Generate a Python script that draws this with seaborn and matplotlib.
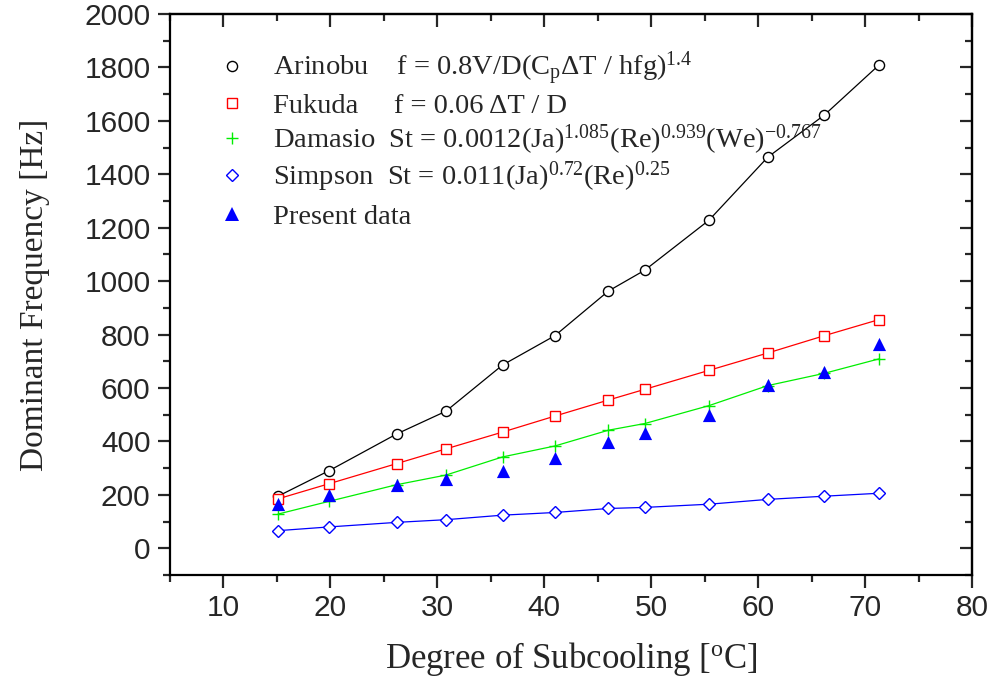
import matplotlib
matplotlib.use("Agg")
import matplotlib.pyplot as plt
import seaborn as sns
import numpy as np
import pandas as pd
from matplotlib.lines import Line2D
from matplotlib.ticker import MultipleLocator

# ---- data ----
subcooling = [15.1, 19.9, 26.2, 30.8, 36.1, 41.0, 46.0, 49.4, 55.4, 60.9, 66.2, 71.3]
arinobu = [195, 291, 428, 513, 686, 796, 963, 1041, 1228, 1464, 1622, 1809]
fukuda = [185, 242, 317, 372, 435, 495, 555, 595, 666, 731, 796, 856]
damasio = [128, 176, 238, 274, 342, 383, 442, 467, 534, 609, 655, 709]
simpson = [66, 80, 97, 107, 124, 134, 149, 153, 165, 183, 195, 206]
present = [166, 200, 237, 258, 289, 337, 396, 430, 498, 610, 661, 766]

labels = [
    "Arinobu    f = 0.8V/D(C$_\\mathregular{p}$\u0394T / hfg)$^\\mathregular{1.4}$",
    "Fukuda     f = 0.06 \u0394T / D",
    "Damasio  St = 0.0012(Ja)$^\\mathregular{1.085}$(Re)$^\\mathregular{0.939}$(We)$^\\mathregular{-0.767}$",
    "Simpson  St = 0.011(Ja)$^\\mathregular{0.72}$(Re)$^\\mathregular{0.25}$",
    "Present data",
]
xlabel = "Degree of Subcooling [$^\\mathregular{o}$C]"
ylabel = "Dominant Frequency [Hz]"
x_ticks = [10, 20, 30, 40, 50, 60, 70, 80]
y_ticks = [0, 200, 400, 600, 800, 1000, 1200, 1400, 1600, 1800, 2000]

sns.set_style("ticks")
plt.rcParams["font.family"] = ["Liberation Serif", "DejaVu Serif"]
plt.rcParams["mathtext.fontset"] = "custom"
plt.rcParams["mathtext.rm"] = "Liberation Serif"
plt.rcParams["mathtext.it"] = "Liberation Serif:italic"

fig = plt.figure(figsize=(9.94, 6.81), dpi=100)
ax = fig.add_axes([170/994, 1-575/681, (972-170)/994, (575-14)/681])

series = [
    (arinobu, "o", "#000000", 7.3),
    (fukuda, "s", "#ff0000", 6.6),
    (damasio, "+", "#00ee00", 8.8),
    (simpson, "D", "#0000ff", 6.6),
]
for vals, mk, col, ms in series:
    sns.lineplot(x=subcooling, y=vals, ax=ax, color=col, linewidth=0.9,
                 marker=mk, markersize=ms, markerfacecolor="white",
                 markeredgecolor=col, markeredgewidth=1.0)

sns.scatterplot(x=subcooling, y=present, ax=ax, marker="^", s=90,
                color="#0000ff", edgecolor="#0000ff", linewidth=0, zorder=5)

ax.set_xlim(5, 80)
ax.set_ylim(-100, 2000)
ax.set_xticks(x_ticks)
ax.set_yticks(y_ticks)
ax.xaxis.set_minor_locator(MultipleLocator(5))
ax.yaxis.set_minor_locator(MultipleLocator(100))
for s in ax.spines.values():
    s.set_linewidth(1.6)
    s.set_color("black")
    s.set_visible(True)
ax.tick_params(axis="both", which="major", direction="out", length=9, width=1.6, pad=5)
ax.tick_params(axis="both", which="minor", direction="out", length=5, width=1.6)
ax.tick_params(top=False, right=False, which="both")

for t in ax.get_yticklabels():
    t.set_fontfamily(["Liberation Sans", "DejaVu Sans"])
    t.set_fontsize(21.5)
for t in ax.get_xticklabels():
    t.set_fontfamily(["Liberation Sans", "DejaVu Sans"])
    t.set_fontsize(21.5)

secx = ax.secondary_xaxis("top")
secx.set_xticks(x_ticks)
secx.xaxis.set_minor_locator(MultipleLocator(5))
secx.tick_params(axis="x", which="major", direction="in", length=9, width=1.6, labeltop=False)
secx.tick_params(axis="x", which="minor", direction="in", length=5, width=1.6)
secx.spines["top"].set_linewidth(1.6)

secy = ax.secondary_yaxis("right")
secy.set_yticks(y_ticks)
secy.yaxis.set_minor_locator(MultipleLocator(100))
secy.tick_params(axis="y", which="major", direction="in", length=9, width=1.6, labelright=False)
secy.tick_params(axis="y", which="minor", direction="in", length=5, width=1.6)
secy.spines["right"].set_linewidth(1.6)

ax.set_xlabel(xlabel, fontsize=25, family="Liberation Serif")
ax.set_ylabel(ylabel, fontsize=24, family="Liberation Serif")
ax.xaxis.set_label_coords(0.5, -0.115)
ax.yaxis.set_label_coords(-0.15, 0.5)

handles = [
    Line2D([], [], linestyle="none", marker="o", markersize=7.3, markerfacecolor="white",
           markeredgecolor="#000000", markeredgewidth=1.0),
    Line2D([], [], linestyle="none", marker="s", markersize=6.6, markerfacecolor="white",
           markeredgecolor="#ff0000", markeredgewidth=1.0),
    Line2D([], [], linestyle="none", marker="+", markersize=8.8,
           markeredgecolor="#00ee00", markeredgewidth=1.0),
    Line2D([], [], linestyle="none", marker="D", markersize=6.6, markerfacecolor="white",
           markeredgecolor="#0000ff", markeredgewidth=1.0),
    Line2D([], [], linestyle="none", marker="^", markersize=9.8, markerfacecolor="#0000ff",
           markeredgecolor="#0000ff", markeredgewidth=0),
]
# one legend row per entry, so rows can sit at evenly spaced heights
row_pixel_y = [66.7, 101.7, 138.3, 175.0, 213.3]
row_shift = [2, 4, 2, 2, 4]
legs = []
for h, lab, py, dy in zip(handles, labels, row_pixel_y, row_shift):
    leg = ax.legend([h], [lab], loc="center left",
                    bbox_to_anchor=(0.0595, (575 - (py + dy)) / 561),
                    frameon=False, prop={"family": "Liberation Serif", "size": 20.5},
                    handlelength=1.0, handletextpad=0.94, borderpad=0,
                    borderaxespad=0)
    legs.append(leg)
for leg in legs[:-1]:
    ax.add_artist(leg)

fig.savefig("out.png", dpi=100)
